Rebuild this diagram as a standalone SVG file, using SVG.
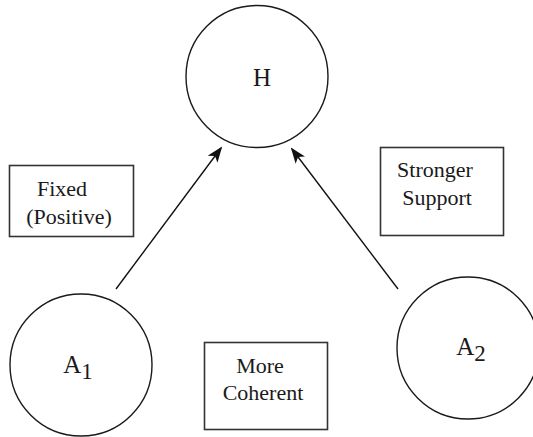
<svg xmlns="http://www.w3.org/2000/svg" width="533" height="437" viewBox="0 0 533 437">
<defs>
<style>
.c{fill:none;stroke:#1a1a1a;stroke-width:1.4}
.b{fill:none;stroke:#333;stroke-width:1.6}
.t{font-family:"Liberation Serif","Times New Roman",serif;fill:#1a1a1a;text-anchor:middle}
.s{font-size:22px}
.l{font-size:25px}
.e{stroke:#111;stroke-width:1.4;fill:none}
</style>
<marker id="ah" markerWidth="16" markerHeight="12" refX="14" refY="6" orient="auto" markerUnits="userSpaceOnUse">
<path d="M0,0 L16,6 L0,12 L4,6 Z" fill="#111"/>
</marker>
</defs>
<rect width="533" height="437" fill="#fff"/>
<g id="edges">
<line class="e" x1="116" y1="289" x2="221" y2="148" marker-end="url(#ah)"/>
<line class="e" x1="398" y1="289" x2="292" y2="149" marker-end="url(#ah)"/>
</g>
<g id="H">
<circle class="c" cx="257" cy="76.5" r="71"/>
<text class="t l" x="262" y="86">H</text>
</g>
<g id="A1">
<circle class="c" cx="81" cy="365" r="71"/>
<text class="t l" x="78" y="373">A<tspan font-size="23" dy="6">1</tspan></text>
</g>
<g id="A2">
<circle class="c" cx="468" cy="348" r="71"/>
<text class="t l" x="471" y="355">A<tspan font-size="23" dy="6">2</tspan></text>
</g>
<g id="fixed">
<rect class="b" x="9.5" y="165.5" width="124" height="71"/>
<text class="t s" x="62" y="196">Fixed</text>
<text class="t s" x="69" y="224">(Positive)</text>
</g>
<g id="stronger">
<rect class="b" x="380.5" y="147.5" width="123" height="88"/>
<text class="t s" x="435" y="177">Stronger</text>
<text class="t s" x="437" y="205">Support</text>
</g>
<g id="coherent">
<rect class="b" x="204.5" y="342.5" width="123" height="87"/>
<text class="t s" x="260" y="373">More</text>
<text class="t s" x="263" y="400">Coherent</text>
</g>
</svg>
